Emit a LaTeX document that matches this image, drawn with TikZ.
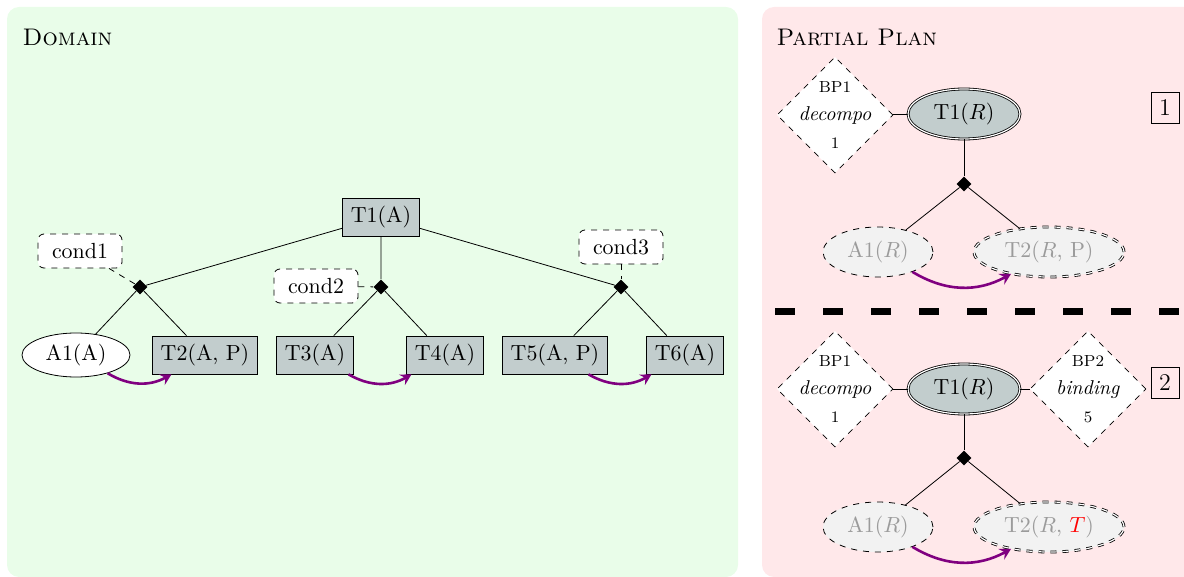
\documentclass[tikz,border=0pt,11pt]{standalone}
\usetikzlibrary{shapes.geometric,arrows.meta}
\usepackage{xcolor}

\definecolor{domainbg}{RGB}{233,253,233}
\definecolor{planbg}{RGB}{255,232,234}
\definecolor{taskgray}{RGB}{194,205,205}
\definecolor{ghostfill}{RGB}{242,242,242}
\definecolor{ghosttext}{RGB}{155,155,155}
\definecolor{precarrow}{RGB}{128,0,128}

\begin{document}
\begin{tikzpicture}[x=0.5pt,y=0.5pt,
	task/.style={draw, fill=taskgray, inner sep=4pt, minimum height=18pt},
	prim/.style={draw, fill=white, ellipse, inner sep=1pt, minimum width=54pt, minimum height=22pt},
	cond/.style={draw, dashed, fill=white, rounded corners=3pt, inner sep=2pt, minimum width=42pt, minimum height=17pt},
	ordr/.style={diamond, fill=black, inner sep=0pt, minimum width=7.5pt, minimum height=7.5pt},
	prec/.style={-{Stealth[length=5.5pt,width=6pt,inset=2pt]}, line width=1.3pt, precarrow},
	root/.style={draw, double, ellipse, fill=taskgray, inner sep=1pt, minimum width=56pt, minimum height=25pt},
	ghost/.style={draw, dashed, ellipse, fill=ghostfill, text=ghosttext, inner sep=1pt, minimum height=25pt},
	bpoint/.style={draw, dashed, diamond, fill=white, align=center, font=\small, inner sep=-6pt, minimum width=58pt, minimum height=58pt},
	planno/.style={draw, font=\large, inner sep=0pt, minimum width=14pt, minimum height=15.5pt}]
	% Parameters
	\def\panelr{6pt}
	\def\sepy{-312}

	\useasboundingbox (0,0) rectangle (1184,-577);
	\clip (0,0) rectangle (1184,-577);

	%panels
	\fill[domainbg, rounded corners=\panelr] (7,-7) rectangle (738,-577);
	\fill[planbg, rounded corners=\panelr] (762,-7) rectangle (1220,-577);
	\node[anchor=west, font=\large] (domtitle) at (15,-37) {\textsc{Domain}};
	\node[anchor=west, font=\large] (plantitle) at (769,-37) {\textsc{Partial Plan}};

	%domain tasks
	\node[task] (T1d) at (381,-217) {T1(A)};
	\node[ordr] (d1) at (140,-287) {};
	\node[ordr] (d2) at (381,-287) {};
	\node[ordr] (d3) at (621,-287) {};
	\node[cond] (c1) at (80,-251) {cond1};
	\node[cond] (c2) at (316,-286) {cond2};
	\node[cond] (c3) at (621,-247) {cond3};
	\node[prim] (A1d) at (76,-355) {A1(A)};
	\node[task] (T2d) at (205,-355) {T2(A, P)};
	\node[task] (T3d) at (315,-355) {T3(A)};
	\node[task] (T4d) at (445,-355) {T4(A)};
	\node[task] (T5d) at (555,-355) {T5(A, P)};
	\node[task] (T6d) at (685,-355) {T6(A)};

	%domain links
	\draw (T1d) -- (d1) (T1d) -- (d2) (T1d) -- (d3);
	\draw (d1) -- (A1d) (d1) -- (T2d);
	\draw (d2) -- (T3d) (d2) -- (T4d);
	\draw (d3) -- (T5d) (d3) -- (T6d);
	\draw[dashed] (c1) -- (d1);
	\draw[dashed] (c2) -- (d2);
	\draw[dashed] (c3) -- (d3);
	\draw[prec] (A1d) to[bend right] (T2d);
	\draw[prec] (T3d) to[bend right] (T4d);
	\draw[prec] (T5d) to[bend right] (T6d);

	%plan 1
	\node[bpoint] (bp1a) at (835,-115) {{\scriptsize BP1}\\[2pt] \textit{decompo}\\[2pt] {\scriptsize 1}};
	\node[root] (T1a) at (964,-114) {T1($R$)};
	\node[planno] (no1) at (1165,-108) {1};
	\node[ordr] (da) at (964,-184) {};
	\node[ghost, minimum width=55pt] (A1a) at (878,-252) {A1($R$)};
	\node[ghost, double, minimum width=75pt] (T2a) at (1049,-252) {T2($R$, P)};
	\draw (bp1a) -- (T1a);
	\draw (T1a) -- (da);
	\draw (da) -- (A1a) (da) -- (T2a);
	\draw[prec] (A1a) to[bend right] (T2a);

	%separator
	\draw[line width=3.5pt, dash pattern=on 10pt off 14pt] (775,\sepy) -- (1220,\sepy);

	%plan 2
	\node[bpoint] (bp1b) at (835,-389) {{\scriptsize BP1}\\[2pt] \textit{decompo}\\[2pt] {\scriptsize 1}};
	\node[root] (T1b) at (964,-389) {T1($R$)};
	\node[bpoint] (bp2b) at (1088,-389) {{\scriptsize BP2}\\[2pt] \textit{binding}\\[2pt] {\scriptsize 5}};
	\node[planno] (no2) at (1165,-383) {2};
	\node[ordr] (db) at (964,-458) {};
	\node[ghost, minimum width=55pt] (A1b) at (878,-527) {A1($R$)};
	\node[ghost, double, minimum width=75pt] (T2b) at (1049,-527) {T2($R$, {\color{red}$T$})};
	\draw (bp1b) -- (T1b) -- (bp2b);
	\draw (T1b) -- (db);
	\draw (db) -- (A1b) (db) -- (T2b);
	\draw[prec] (A1b) to[bend right] (T2b);
\end{tikzpicture}
\end{document}
